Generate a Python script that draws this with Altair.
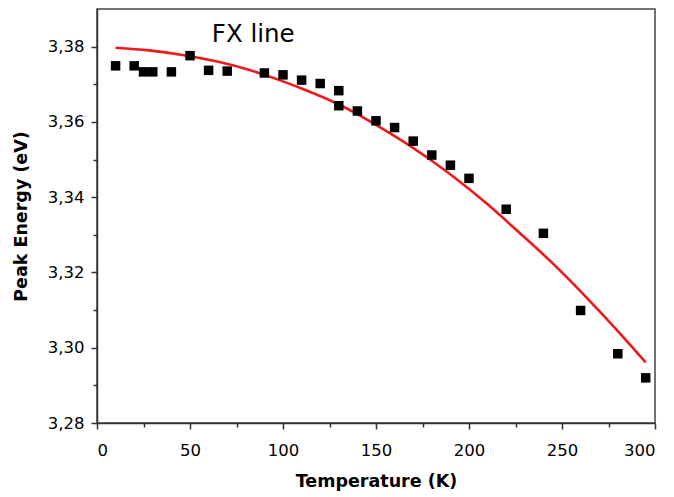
import altair as alt
import pandas as pd

# Measured points (Temperature K, Peak energy eV)
temp_pts = [10, 20, 25, 30, 40, 50, 60, 70, 90, 100, 110, 120, 130, 130,
            140, 150, 160, 170, 180, 190, 200, 220, 240, 260, 280, 295]
energy_pts = [3.3749, 3.3749, 3.3733, 3.3733, 3.3733, 3.3776, 3.3737, 3.3735,
              3.3730, 3.3725, 3.3711, 3.3702, 3.3683, 3.3643, 3.3629, 3.3603,
              3.3585, 3.3549, 3.3512, 3.3485, 3.3450, 3.3368, 3.3304, 3.3099,
              3.2984, 3.2920]

# Fitted curve
temp_fit = [10, 28, 46, 64, 82, 97, 111, 129, 147, 165, 179, 192, 210, 227,
            245, 265, 281, 295]
energy_fit = [3.3797, 3.3790, 3.3778, 3.3761, 3.3738, 3.3713, 3.3687, 3.3649,
              3.3601, 3.3547, 3.3500, 3.3453, 3.3381, 3.3306, 3.3224, 3.3124,
              3.3039, 3.2961]

x_ticks = [0, 25, 50, 75, 100, 125, 150, 175, 200, 225, 250, 275, 300]
y_ticks = [3.28, 3.29, 3.30, 3.31, 3.32, 3.33, 3.34, 3.35, 3.36, 3.37, 3.38]

label_text = ["FX line"]
label_t = [84]
label_e = [3.3830]

pts = pd.DataFrame({"T": temp_pts, "E": energy_pts})
fit = pd.DataFrame({"T": temp_fit, "E": energy_fit})
lab = pd.DataFrame({"T": label_t, "E": label_e, "text": label_text})

FONT = "DejaVu Sans"

xscale = alt.Scale(domain=[0, 300], nice=False, zero=False)
yscale = alt.Scale(domain=[3.28, 3.39], nice=False, zero=False)

xaxis = alt.Axis(
    title="Temperature (K)", values=x_ticks,
    labelExpr="datum.value % 50 === 0 ? datum.label : ''",
    grid=False, domainColor="#333333", domainWidth=1.5,
    tickColor="#333333", tickWidth=1.5,
    tickSize={"condition": {"test": "datum.value % 50 === 0", "value": 6}, "value": 4},
    labelFont=FONT, labelFontSize=16.5, labelColor="#000000", labelPadding=13,
    titleFont=FONT, titleFontSize=17.5, titleFontWeight="bold", titleColor="#000000",
    titlePadding=14,
)
yaxis = alt.Axis(
    title="Peak Energy (eV)", values=y_ticks,
    labelExpr="abs(round(datum.value*100)) % 2 === 0 ? replace(format(datum.value, '.2f'), '.', ',') : ''",
    grid=False, domainColor="#333333", domainWidth=1.5,
    tickColor="#333333", tickWidth=1.5,
    tickSize={"condition": {"test": "abs(round(datum.value*100)) % 2 === 0", "value": 6}, "value": 4},
    labelFont=FONT, labelFontSize=16.5, labelColor="#000000", labelPadding=7,
    titleFont=FONT, titleFontSize=17.5, titleFontWeight="bold", titleColor="#000000",
    titlePadding=17,
)

line = alt.Chart(fit).mark_line(color="#f01818", strokeWidth=2.6, interpolate="natural").encode(
    x=alt.X("T:Q", scale=xscale, axis=xaxis),
    y=alt.Y("E:Q", scale=yscale, axis=yaxis),
)
points = alt.Chart(pts).mark_square(color="#000000", size=90, opacity=1).encode(
    x=alt.X("T:Q", scale=xscale),
    y=alt.Y("E:Q", scale=yscale),
)
text = alt.Chart(lab).mark_text(font=FONT, fontSize=24.5, color="#000000").encode(
    x=alt.X("T:Q", scale=xscale),
    y=alt.Y("E:Q", scale=yscale),
    text="text:N",
)

chart = alt.layer(line, points, text).properties(
    width=558, height=414,
    autosize=alt.AutoSizeParams(type="none"),
    padding={"left": 97, "top": 9, "right": 19, "bottom": 74},
    background="#ffffff",
).configure_view(stroke="#444444", strokeWidth=1.5)

chart.save("out.html", embed_options={"renderer": "svg", "actions": False})
